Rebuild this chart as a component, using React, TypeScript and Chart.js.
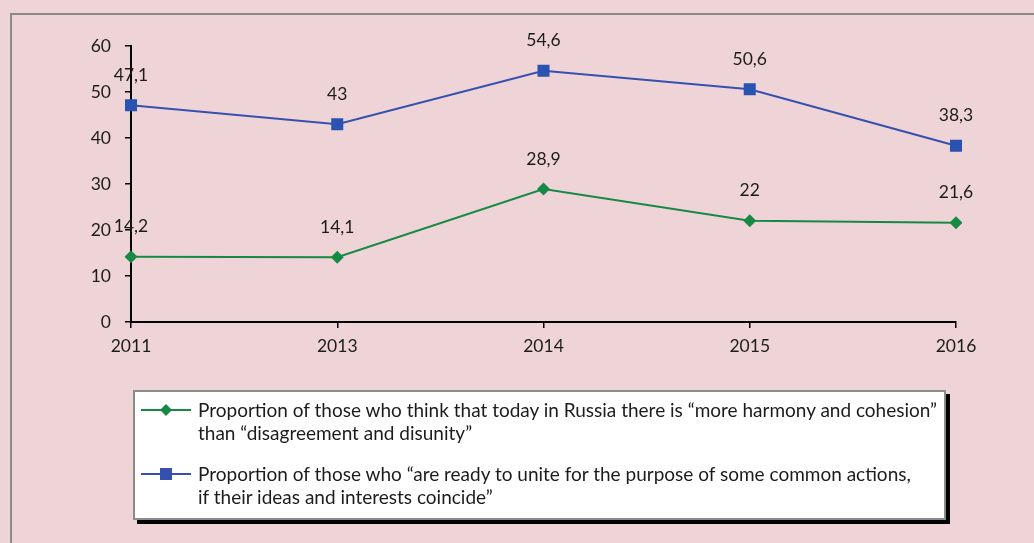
import React, { useEffect, useRef } from "react";
import { Chart, registerables } from "chart.js";

Chart.register(...registerables);

const years = ["2011", "2013", "2014", "2015", "2016"];
const harmonyValues = [14.2, 14.1, 28.9, 22, 21.6];
const uniteValues = [47.1, 43, 54.6, 50.6, 38.3];
const yTicks = [0, 10, 20, 30, 40, 50, 60];
const harmonyLabel = [
  "Proportion of those who think that today in Russia there is \u201cmore harmony and cohesion\u201d",
  "than \u201cdisagreement and disunity\u201d",
];
const uniteLabel = [
  "Proportion of those who \u201care ready to unite for the purpose of some common actions,",
  "if their ideas and interests coincide\u201d",
];

const GREEN = "#168a44";
const BLUE = "#3650b0";
const FONT = "Lato, 'Open Sans', sans-serif";

const valueLabels = {
  id: "valueLabels",
  afterDatasetsDraw(chart: any) {
    const ctx = chart.ctx;
    ctx.save();
    ctx.font = `17.5px ${FONT}`;
    ctx.fillStyle = "#1c1c1c";
    ctx.textAlign = "center";
    ctx.textBaseline = "middle";
    chart.data.datasets.forEach((ds: any, i: number) => {
      const meta = chart.getDatasetMeta(i);
      meta.data.forEach((pt: any, j: number) => {
        const v = ds.data[j];
        ctx.fillText(String(v).replace(".", ","), pt.x, pt.y - 30);
      });
    });
    ctx.restore();
  },
};

function LegendRow({ color, shape, lines }: { color: string; shape: string; lines: string[] }) {
  return (
    <div style={{ display: "flex", alignItems: "flex-start", marginBottom: 18 }}>
      <svg width={54} height={22} style={{ flex: "none", marginTop: 1 }}>
        <line x1={2} y1={11} x2={52} y2={11} stroke={color} strokeWidth={2} />
        {shape === "diamond" ? (
          <polygon points="27,5 33,11 27,17 21,11" fill={color} />
        ) : (
          <rect x={21} y={5} width={12} height={12} fill={color} />
        )}
      </svg>
      <div style={{ marginLeft: 5, lineHeight: "23px" }}>
        {lines.map((l, i) => (
          <div key={i}>{l}</div>
        ))}
      </div>
    </div>
  );
}

export default function App() {
  const canvasRef = useRef<HTMLCanvasElement | null>(null);

  useEffect(() => {
    if (!canvasRef.current) return;
    const chart = new Chart(canvasRef.current, {
      type: "line",
      data: {
        labels: years,
        datasets: [
          {
            label: harmonyLabel.join(" "),
            data: harmonyValues,
            borderColor: GREEN,
            backgroundColor: GREEN,
            borderWidth: 2,
            pointStyle: "rectRot",
            pointRadius: 6.5,
            pointBorderWidth: 0,
            tension: 0,
          },
          {
            label: uniteLabel.join(" "),
            data: uniteValues,
            borderColor: BLUE,
            backgroundColor: "#2a52b0",
            borderWidth: 2,
            pointStyle: "rect",
            pointRadius: 8.5,
            pointBorderWidth: 0,
            tension: 0,
          },
        ],
      },
      options: {
        animation: false,
        responsive: false,
        layout: { padding: { left: 71, right: 78, top: 46, bottom: 191 } },
        plugins: {
          legend: { display: false },
          tooltip: { enabled: false },
        },
        scales: {
          x: {
            offset: false,
            grid: {
              drawOnChartArea: false,
              drawTicks: true,
              tickLength: 6,
              color: "#000",
              lineWidth: 1.5,
            },
            border: { display: true, color: "#000", width: 2 },
            ticks: {
              color: "#1c1c1c",
              font: { family: FONT, size: 17.5 },
              padding: 8,
              maxRotation: 0,
            },
            afterFit: (s: any) => {
              s.height = 30;
            },
          },
          y: {
            min: 0,
            max: 60,
            afterBuildTicks: (s: any) => {
              s.ticks = yTicks.map((v) => ({ value: v }));
            },
            grid: {
              drawOnChartArea: false,
              drawTicks: true,
              tickLength: 6,
              color: "#000",
              lineWidth: 1.5,
            },
            border: { display: true, color: "#000", width: 2 },
            ticks: {
              color: "#1c1c1c",
              font: { family: FONT, size: 17.5 },
              padding: 14,
            },
            afterFit: (s: any) => {
              s.width = 60;
            },
          },
        },
      },
      plugins: [valueLabels],
    });
    return () => chart.destroy();
  }, []);

  return (
    <div
      style={{
        position: "fixed",
        left: 0,
        top: 0,
        width: 1034,
        height: 543,
        background: "#efd4d7",
        overflow: "hidden",
        fontFamily: FONT,
      }}
    >
      <div
        style={{
          position: "absolute",
          left: 10,
          top: 13,
          width: 1100,
          height: 600,
          borderLeft: "2px solid #8a8a8a",
          borderTop: "2px solid #8a8a8a",
        }}
      />
      <canvas
        ref={canvasRef}
        width={1034}
        height={543}
        style={{ position: "absolute", left: 0, top: 0 }}
      />
      <div
        style={{
          position: "absolute",
          left: 133,
          top: 390,
          width: 813,
          height: 130,
          boxSizing: "border-box",
          background: "#fff",
          border: "2px solid #8c8c8c",
          boxShadow: "4px 4px 0 #000",
          padding: "6px 0 0 4px",
          fontSize: 19,
          color: "#1c1c1c",
          whiteSpace: "nowrap",
        }}
      >
        <LegendRow color={GREEN} shape="diamond" lines={harmonyLabel} />
        <LegendRow color={BLUE} shape="square" lines={uniteLabel} />
      </div>
    </div>
  );
}
